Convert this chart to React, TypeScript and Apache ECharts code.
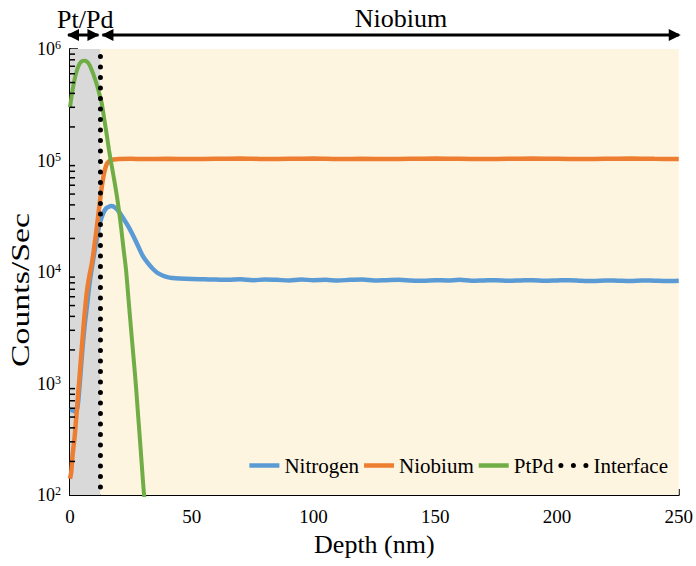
import React, { useEffect, useRef } from "react";
import * as echarts from "echarts";

const FONT = "'Liberation Serif', 'Times New Roman', serif";

// Nitrogen (blue)
const nitrogenDepth = [0, 1, 2, 3, 4, 5, 6, 7, 8, 9, 10, 11, 12, 13, 14, 15, 16, 17, 18, 19, 20, 22, 24, 26, 28, 30, 32, 34, 36, 38, 40, 42, 45, 50, 55, 60, 65, 70, 75, 80, 85, 90, 95, 100, 105, 110, 115, 120, 125, 130, 135, 140, 145, 150, 155, 160, 165, 170, 175, 180, 185, 190, 195, 200, 205, 210, 215, 220, 225, 230, 235, 240, 245, 250];
const nitrogenCounts = [575, 580, 560, 600, 1000, 1900, 3300, 5000, 7800, 11000, 15000, 20000, 26000, 31000, 35000, 37500, 38500, 39000, 38500, 37000, 35000, 30000, 25500, 21000, 17000, 13800, 12000, 10700, 9800, 9300, 9000, 8850, 8750, 8650, 8600, 8550, 8500, 8600, 8450, 8550, 8500, 8400, 8550, 8450, 8500, 8400, 8500, 8550, 8400, 8450, 8500, 8400, 8350, 8450, 8400, 8500, 8350, 8400, 8450, 8350, 8400, 8450, 8350, 8400, 8450, 8350, 8300, 8400, 8350, 8300, 8400, 8350, 8300, 8350];

// Niobium (orange)
const niobiumDepth = [0, 0.5, 1, 2, 3, 4, 5, 6, 7, 8, 9, 10, 11, 12, 13, 14, 15, 16, 17, 18, 20, 25, 30, 40, 50, 60, 70, 80, 90, 100, 110, 120, 130, 140, 150, 160, 170, 180, 190, 200, 210, 220, 230, 240, 250];
const niobiumCounts = [140, 160, 220, 350, 650, 1200, 2300, 4200, 6800, 9300, 12000, 17000, 25000, 38000, 57000, 77000, 92000, 98000, 101000, 102000, 103000, 103500, 103000, 103500, 103000, 103500, 104000, 103000, 103500, 104000, 103000, 103500, 103000, 103500, 104000, 103500, 103000, 103500, 104000, 103500, 103000, 103500, 104000, 103500, 103000];

// PtPd (green)
const ptpdDepth = [0, 1, 2, 3, 4, 5, 6, 7, 8, 9, 10, 11, 12, 13, 14, 15, 16, 17, 18, 19, 20, 21, 22, 23, 24, 25, 26, 27, 28, 29, 30, 30.5];
const ptpdCounts = [300000, 420000, 550000, 660000, 740000, 780000, 785000, 770000, 720000, 640000, 560000, 480000, 400000, 330000, 240000, 175000, 125000, 93000, 70000, 52000, 37000, 25000, 16000, 10500, 5800, 3200, 1800, 1000, 510, 260, 130, 95];

// Interface (dotted)
const interfaceDepth = [12.5, 12.5];
const interfaceCounts = [100, 1000000];

// Regions
const ptpdRegion = [0, 12.5];
const niobiumRegion = [12.5, 250];

// Log-axis minor tick values
const minorTickValues = [200, 300, 400, 500, 600, 700, 800, 900, 2000, 3000, 4000, 5000, 6000, 7000, 8000, 9000, 20000, 30000, 40000, 50000, 60000, 70000, 80000, 90000, 200000, 300000, 400000, 500000, 600000, 700000, 800000, 900000];

const xLabelValues = [0, 50, 100, 150, 200, 250];

const zip = (xs: number[], ys: number[]) => xs.map((x, i) => [x, ys[i]]);

const LINE_ICON = "path://M0,0 L30,0 L30,4.5 L0,4.5 Z";
const DOT_ICON =
  "path://M0,2.5 A2.5,2.5 0 1 0 5,2.5 A2.5,2.5 0 1 0 0,2.5 Z M12.5,2.5 A2.5,2.5 0 1 0 17.5,2.5 A2.5,2.5 0 1 0 12.5,2.5 Z M25,2.5 A2.5,2.5 0 1 0 30,2.5 A2.5,2.5 0 1 0 25,2.5 Z";

export default function App() {
  const ref = useRef<HTMLDivElement>(null);
  useEffect(() => {
    if (!ref.current) return;
    const chart = echarts.init(ref.current, null, { renderer: "svg" });
    const option: any = {
      animation: false,
      backgroundColor: "#ffffff",
      textStyle: { fontFamily: FONT },
      grid: { left: 70, right: 12, top: 49, bottom: 71, containLabel: false },
      legend: {
        data: [
          { name: "Nitrogen", icon: LINE_ICON },
          { name: "Niobium", icon: LINE_ICON },
          { name: "PtPd", icon: LINE_ICON },
          { name: "Interface", icon: DOT_ICON, itemStyle: { color: "#000" } },
        ],
        right: 28,
        top: 455,
        itemWidth: 30,
        itemHeight: 5,
        itemGap: 5,
        padding: 0,
        textStyle: { fontFamily: FONT, fontSize: 21, color: "#000" },
      },
      xAxis: {
        type: "value",
        min: 0,
        max: 250,
        interval: 10,
        name: "Depth (nm)",
        nameLocation: "middle",
        nameGap: 36,
        nameTextStyle: { fontFamily: FONT, fontSize: 26, color: "#000" },
        axisLine: { show: true, onZero: false, lineStyle: { color: "#000", width: 2 } },
        axisTick: { show: true, inside: true, length: 6, lineStyle: { color: "#000", width: 1.5 } },
        splitLine: { show: false },
        axisLabel: {
          margin: 12,
          fontFamily: FONT,
          fontSize: 19,
          color: "#000",
          formatter: (v: number) => (xLabelValues.indexOf(v) >= 0 ? String(v) : ""),
        },
      },
      yAxis: {
        type: "log",
        logBase: 10,
        min: 100,
        max: 1000000,
        axisLine: { show: true, onZero: false, lineStyle: { color: "#000", width: 2 } },
        axisTick: { show: true, inside: true, length: 8, lineStyle: { color: "#000", width: 1.5 } },
        splitLine: { show: false },
        axisLabel: {
          margin: 9,
          color: "#000",
          formatter: (v: number) => `{b|10}{s|${Math.round(Math.log10(v))}}`,
          rich: {
            b: { fontFamily: FONT, fontSize: 18, color: "#000" },
            s: { fontFamily: FONT, fontSize: 12, color: "#000", verticalAlign: "top", padding: [0, 0, 8, 0] },
          },
        },
      },
      series: [
        {
          name: "Nitrogen",
          type: "line",
          data: zip(nitrogenDepth, nitrogenCounts),
          showSymbol: false,
          symbol: "none",
          smooth: 0.3,
          color: "#5B9BD5",
          lineStyle: { color: "#5B9BD5", width: 4.5 },
          z: 3,
          markArea: {
            silent: true,
            z: 1,
            data: [
              [{ xAxis: ptpdRegion[0], itemStyle: { color: "#D9D9D9" } }, { xAxis: ptpdRegion[1] }],
              [{ xAxis: niobiumRegion[0], itemStyle: { color: "#FEF5E0" } }, { xAxis: niobiumRegion[1] }],
            ],
          },
        },
        {
          name: "Niobium",
          type: "line",
          data: zip(niobiumDepth, niobiumCounts),
          showSymbol: false,
          symbol: "none",
          smooth: 0.3,
          color: "#ED7D31",
          lineStyle: { color: "#ED7D31", width: 4.5 },
          z: 4,
        },
        {
          name: "PtPd",
          type: "line",
          data: zip(ptpdDepth, ptpdCounts),
          showSymbol: false,
          symbol: "none",
          smooth: 0.3,
          color: "#70AD47",
          lineStyle: { color: "#70AD47", width: 4 },
          z: 5,
        },
        {
          name: "Interface",
          type: "line",
          data: zip(interfaceDepth, interfaceCounts),
          showSymbol: false,
          symbol: "none",
          color: "#000",
          lineStyle: { color: "#000", width: 5, type: [0.1, 10.4], cap: "round", dashOffset: -8 },
          z: 6,
        },
        {
          name: "minorTicks",
          type: "custom",
          data: minorTickValues.map((v) => [0, v]),
          encode: { x: 0, y: 1 },
          silent: true,
          z: 7,
          renderItem: (params: any, api: any) => {
            const p = api.coord([0, api.value(1)]);
            return {
              type: "line",
              shape: { x1: p[0], y1: p[1], x2: p[0] + 5, y2: p[1] },
              style: { stroke: "#000", lineWidth: 1.5 },
            };
          },
        },
      ],
    };
    chart.setOption(option);

    const x0 = chart.convertToPixel({ xAxisIndex: 0 }, 0) as number;
    const xi = chart.convertToPixel({ xAxisIndex: 0 }, 12.5) as number;
    const x250 = chart.convertToPixel({ xAxisIndex: 0 }, 250) as number;
    const ay = 35;
    const head = (tip: number, dir: number) => ({
      type: "polygon",
      shape: { points: [[tip, ay], [tip - dir * 12, ay - 6], [tip - dir * 12, ay + 6]] },
      style: { fill: "#000" },
    });
    chart.setOption({
      graphic: [
        { type: "line", shape: { x1: x0 - 2, y1: ay, x2: xi - 2, y2: ay }, style: { stroke: "#000", lineWidth: 3 } },
        head(x0 - 3, -1),
        head(xi - 1, 1),
        { type: "line", shape: { x1: xi + 2, y1: ay, x2: x250, y2: ay }, style: { stroke: "#000", lineWidth: 3 } },
        head(xi + 1, -1),
        head(x250 + 2, 1),
        {
          type: "text",
          x: (x0 + xi) / 2,
          y: 19,
          style: { text: "Pt/Pd", fontFamily: FONT, fontSize: 26, fill: "#000", align: "center", verticalAlign: "middle" },
        },
        {
          type: "text",
          x: 401,
          y: 18,
          style: { text: "Niobium", fontFamily: FONT, fontSize: 26, fill: "#000", align: "center", verticalAlign: "middle" },
        },
        {
          type: "text",
          x: 20,
          y: 290,
          rotation: Math.PI / 2,
          scaleX: 1.3,
          style: { text: "Counts/Sec", fontFamily: FONT, fontSize: 26, fill: "#000", align: "center", verticalAlign: "middle" },
        },
      ],
    });
    return () => chart.dispose();
  }, []);
  return <div ref={ref} style={{ position: "fixed", left: 0, top: 0, width: 696, height: 566 }} />;
}
